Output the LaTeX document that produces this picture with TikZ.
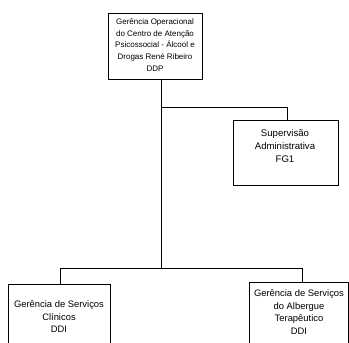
\documentclass[tikz,border=0pt]{standalone}
\usepackage{fontspec}
\setmainfont{Liberation Sans}
\begin{document}
\begin{tikzpicture}[x=1pt,y=-1pt,
  frame/.style={draw, line width=1pt, inner sep=0pt, anchor=north west},
  txt/.style={align=center, inner sep=0pt},
  conn/.style={line width=1pt}]
\useasboundingbox (0,0) rectangle (349,343);
% boxes
\node[frame, minimum width=94pt, minimum height=66pt] (top) at (108,13) {};
\node[txt, font=\fontsize{8}{11.8}\selectfont] (toptxt) at (155,45) {Gerência Operacional\\do Centro de Atenção\\Psicossocial - Álcool e\\Drogas René Ribeiro\\DDP};
\node[frame, minimum width=105pt, minimum height=65pt] (sup) at (233,120) {};
\node[txt, font=\fontsize{9.6}{13}\selectfont] (suptxt) at (285,146) {Supervisão\\Administrativa\\FG1};
\node[frame, minimum width=102pt, minimum height=70pt] (bl) at (8,284) {};
\node[txt, font=\fontsize{9.4}{12.5}\selectfont] (bltxt) at (59,317) {Gerência de Serviços\\Clínicos\\DDI};
\node[frame, minimum width=99pt, minimum height=72pt] (br) at (249,282) {};
\node[txt, font=\fontsize{9.4}{12.5}\selectfont] (brtxt) at (299,312) {Gerência de Serviços\\do Albergue\\Terapêutico\\DDI};
% connectors
\coordinate (j0) at (161,79);
\coordinate (j1) at (161,107);
\coordinate (j2) at (161,268);
\coordinate (jl) at (60,268);
\coordinate (jr) at (302,268);
\draw[conn] (j0) -- (j2);
\draw[conn] (j1) -| ([xshift=1.5pt]sup.north);
\draw[conn] (jl) -- (jr);
\draw[conn] (jl) -- (jl |- bl.north);
\draw[conn] (jr) -- (jr |- br.north);
\end{tikzpicture}
\end{document}
